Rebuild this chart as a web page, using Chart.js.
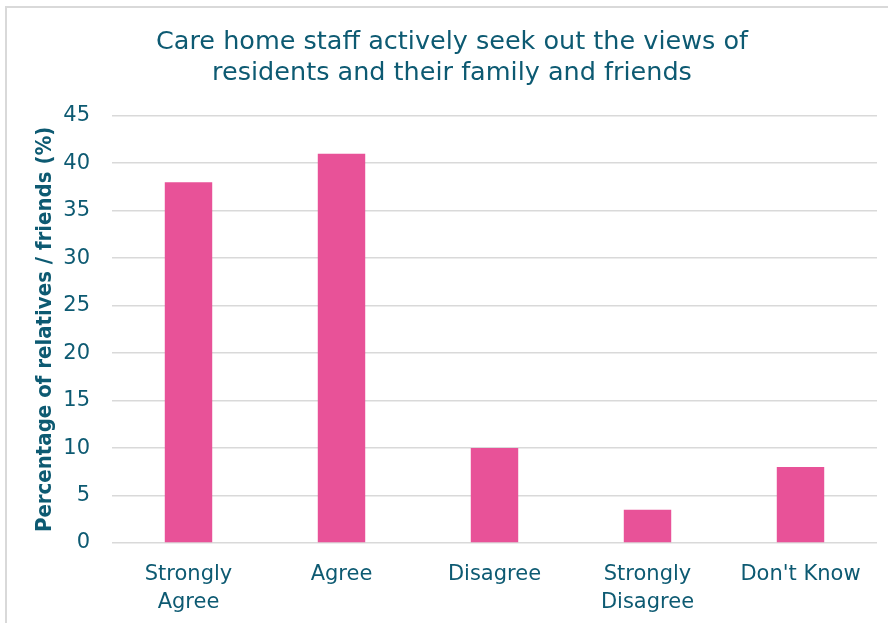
<!DOCTYPE html>
<html lang="en">
<head>
  <meta charset="UTF-8">
  <title>Care home staff actively seek out the views of residents and their family and friends</title>
  <script src="https://cdn.jsdelivr.net/npm/chart.js"></script>
  <style>
    html, body { margin: 0; padding: 0; background: #fff; overflow: hidden; }
    .frame { position: relative; width: 888px; height: 623px; }
    .frame canvas { position: absolute; left: 0; top: 0; }
    .edge { position: absolute; left: 5px; top: 6px; width: 900px; height: 640px;
            border: 2px solid #d9d9d9; pointer-events: none; }
  </style>
</head>
<body>
<div class="frame">
  <canvas id="viewsChart" width="888" height="623"></canvas>
  <div class="edge"></div>
</div>

<script>
  const categories = [['Strongly', 'Agree'], 'Agree', 'Disagree', ['Strongly', 'Disagree'], "Don't Know"];
  const percentages = [38, 41, 10, 3.5, 8];
  const yTicks = [0, 5, 10, 15, 20, 25, 30, 35, 40, 45];

  const teal = '#0d5a72';
  const fontFamily = '"DejaVu Sans", sans-serif';
  const condensed = '"DejaVu Sans Condensed", "DejaVu Sans", sans-serif';

  new Chart(document.getElementById('viewsChart'), {
    type: 'bar',
    data: {
      labels: categories,
      datasets: [{
        label: 'Percentage of relatives / friends (%)',
        data: percentages,
        backgroundColor: '#e85298',
        borderWidth: 0,
        categoryPercentage: 0.31,
        barPercentage: 1
      }]
    },
    options: {
      responsive: false,
      animation: false,
      layout: { padding: { left: 27, right: 11, top: 0, bottom: 0 } },
      plugins: {
        legend: { display: false },
        tooltip: { enabled: false },
        title: {
          display: true,
          text: ['Care home staff actively seek out the views of', 'residents and their family and friends'],
          color: teal,
          font: { family: fontFamily, size: 25.5, weight: 'normal', lineHeight: 1.25 },
          padding: { top: 26, bottom: 26 }
        }
      },
      scales: {
        x: {
          grid: { display: false, drawTicks: false },
          border: { display: false },
          ticks: {
            color: teal,
            font: { family: fontFamily, size: 21, lineHeight: 1.32 },
            padding: 18,
            maxRotation: 0,
            autoSkip: false
          },
          afterFit: scale => { scale.height = 623 - 543; }
        },
        y: {
          min: 0,
          max: 45,
          afterBuildTicks: scale => { scale.ticks = yTicks.map(v => ({ value: v })); },
          grid: { color: '#d9d9d9', lineWidth: 1.5, drawTicks: false },
          border: { display: false },
          ticks: {
            color: teal,
            font: { family: fontFamily, size: 21 },
            padding: 22
          },
          title: {
            display: true,
            text: 'Percentage of relatives / friends (%)',
            color: teal,
            font: { family: condensed, size: 22, weight: 'bold' },
            padding: { top: 5, bottom: 0 }
          },
          afterFit: scale => { scale.width = 112 - 27; }
        }
      }
    }
  });
</script>
</body>
</html>
